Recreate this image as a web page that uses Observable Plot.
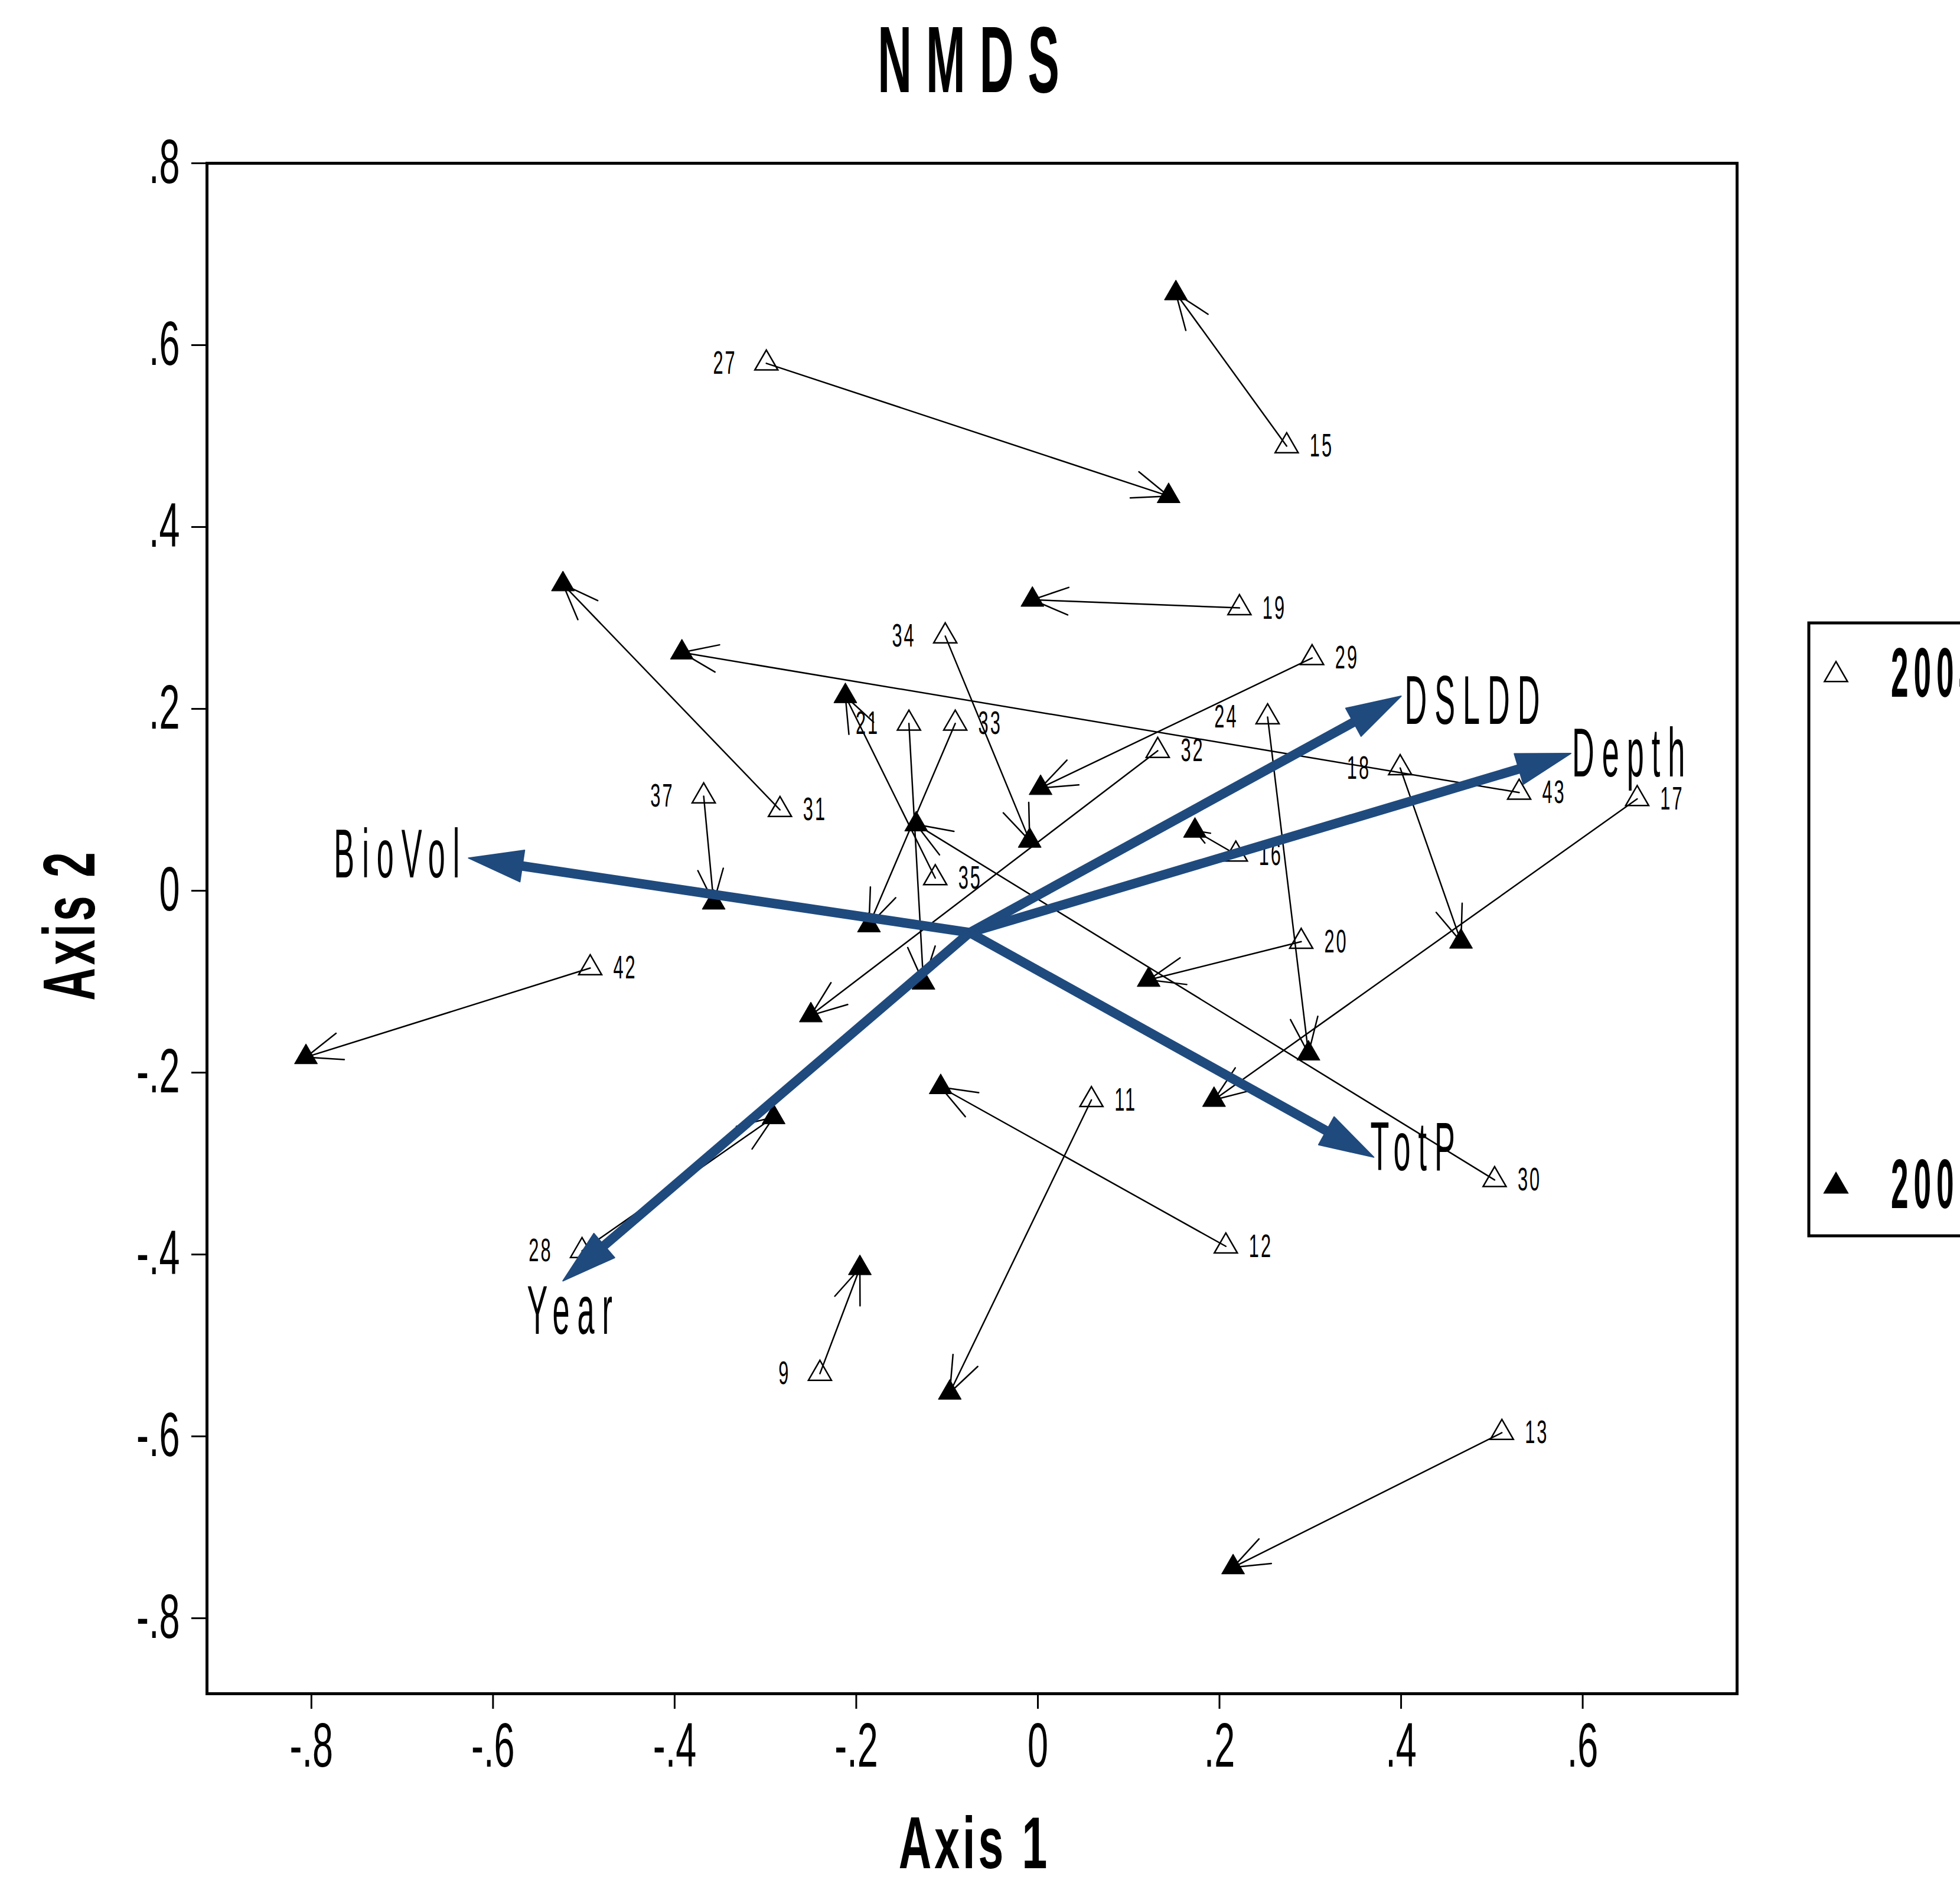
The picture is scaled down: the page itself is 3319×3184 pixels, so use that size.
<!DOCTYPE html>
<html>
<head>
<meta charset="utf-8">
<script src="https://cdn.jsdelivr.net/npm/d3@7"></script>
<script src="https://cdn.jsdelivr.net/npm/@observablehq/plot@0.6"></script>
<style>
html, body { margin: 0; padding: 0; background: #fff; }
#wrap { position: relative; width: 3319px; height: 3184px; overflow: hidden; background: #fff; }
</style>
</head>
<body>
<div id="wrap"></div>
<script>
// ---- data ----
const sites = ["9","11","12","13","15","16","17","18","19","20","21","24","27","28","29","30","31","32","33","34","35","37","42","43"];
// first year (open triangles)
const axis1First = [-0.240, 0.059, 0.207, 0.511, 0.274, 0.218, 0.660, 0.399, 0.222, 0.290, -0.142, 0.253, -0.299, -0.502, 0.302, 0.503, -0.284, 0.132, -0.091, -0.102, -0.113, -0.368, -0.493, 0.530];
const axis2First = [-0.531, -0.230, -0.391, -0.596, 0.489, 0.040, 0.101, 0.135, 0.311, -0.056, 0.184, 0.191, 0.580, -0.396, 0.256, -0.318, 0.089, 0.154, 0.184, 0.280, 0.014, 0.104, -0.085, 0.108];
// second year (filled triangles)
const axis1Second = [-0.196, -0.097, -0.107, 0.215, 0.152, 0.173, 0.194, 0.466, -0.006, 0.122, -0.126, 0.298, 0.144, -0.291, 0.003, -0.134, -0.523, -0.250, -0.186, -0.009, -0.212, -0.357, -0.806, -0.392];
const axis2Second = [-0.415, -0.552, -0.216, -0.744, 0.657, 0.066, -0.230, -0.056, 0.320, -0.098, -0.101, -0.179, 0.434, -0.249, 0.113, 0.073, 0.337, -0.137, -0.038, 0.055, 0.214, -0.013, -0.183, 0.262];
// sites whose label sits to the left of the marker
const leftLabeled = ["9","18","21","24","27","28","34","37"];

// environmental vectors
const vecNames = ["BioVol", "DSLDD", "Depth", "TotP", "Year"];
const vecAxis1 = [-0.627, 0.400, 0.587, 0.370, -0.523];
const vecAxis2 = [0.036, 0.214, 0.151, -0.293, -0.429];
const vecOrigin1 = -0.075;
const vecOrigin2 = -0.046;

const legendYears = ["2004", "2006"];
const xTickValues = [-0.8, -0.6, -0.4, -0.2, 0, 0.2, 0.4, 0.6];
const yTickValues = [-0.8, -0.6, -0.4, -0.2, 0, 0.2, 0.4, 0.6, 0.8];

// ---- layout ----
const W = 3319, H = 3184;
const mL = 350, mR = 378, mT = 276, mB = 316;
const xDom = [-0.915, 0.770], yDom = [-0.883, 0.800];
const kx = (W - mL - mR) / (xDom[1] - xDom[0]);
const ky = (H - mT - mB) / (yDom[1] - yDom[0]);
const BLUE = "#1f4a7e";
const FONT = "'Liberation Sans', Arial, Helvetica, sans-serif";

const fmt = d => Math.abs(d) < 1e-9 ? "0" : (d < 0 ? "-" : "") + "." + Math.round(Math.abs(d) * 10);

const rows = sites.map((s, i) => ({
  site: s, a1: axis1First[i], a2: axis2First[i], b1: axis1Second[i], b2: axis2Second[i],
  left: leftLabeled.includes(s)
}));

// vector shafts & heads (head size in pixels converted to data units through the scale factors)
const headLen = 92, headHalf = 27;
const vecRows = vecNames.map((n, i) => {
  const tx = vecAxis1[i], ty = vecAxis2[i];
  const dxp = (tx - vecOrigin1) * kx, dyp = (ty - vecOrigin2) * ky;
  const L = Math.hypot(dxp, dyp);
  const ux = dxp / L, uy = dyp / L;
  const bx = tx - ux * headLen / kx, by = ty - uy * headLen / ky;
  return {
    name: n, ox: vecOrigin1, oy: vecOrigin2, tx, ty,
    sx: tx - ux * headLen * 0.6 / kx, sy: ty - uy * headLen * 0.6 / ky,
    c1x: bx + (-uy) * headHalf / kx, c1y: by + ux * headHalf / ky,
    c2x: bx - (-uy) * headHalf / kx, c2y: by - ux * headHalf / ky
  };
});
const headPts = vecRows.flatMap(v => [
  {name: v.name, x: v.tx, y: v.ty},
  {name: v.name, x: v.c1x, y: v.c1y},
  {name: v.name, x: v.c2x, y: v.c2y}
]);

const vecLabelLayout = {
  BioVol: {anchor: "end", dx: -2, dy: -4},
  DSLDD: {anchor: "start", dx: 6, dy: 10},
  Depth: {anchor: "start", dx: 2, dy: 2},
  TotP: {anchor: "start", dx: -6, dy: -15},
  Year: {anchor: "middle", dx: 18, dy: 53}
};

const vecLabelMarks = vecRows.map(v => {
  const L = vecLabelLayout[v.name];
  return Plot.text([v], {x: "tx", y: "ty", text: "name", textAnchor: L.anchor, dx: L.dx, dy: L.dy,
    fontSize: 116, fill: "black"});
});

const plot = Plot.plot({
  width: W, height: H,
  marginLeft: mL, marginRight: mR, marginTop: mT, marginBottom: mB,
  x: {domain: xDom},
  y: {domain: yDom},
  style: {fontFamily: FONT, background: "white", color: "black"},
  marks: [
    Plot.arrow(rows, {x1: "a1", y1: "a2", x2: "b1", y2: "b2", stroke: "black", strokeWidth: 2.5,
      headLength: 39, headAngle: 42}),
    Plot.dot(rows, {x: "a1", y: "a2", symbol: "triangle", r: 14.5, fill: "none", stroke: "black", strokeWidth: 2.5}),
    Plot.dot(rows, {x: "b1", y: "b2", symbol: "triangle", r: 14.5, fill: "black", stroke: "black", strokeWidth: 1}),
    Plot.text(rows.filter(d => !d.left), {x: "a1", y: "a2", text: "site", textAnchor: "start", dx: 39,
      fontSize: 56, fill: "black"}),
    Plot.text(rows.filter(d => d.left), {x: "a1", y: "a2", text: "site", textAnchor: "end", dx: -50,
      fontSize: 56, fill: "black"}),
    Plot.link(vecRows, {x1: "ox", y1: "oy", x2: "sx", y2: "sy", stroke: BLUE, strokeWidth: 16}),
    Plot.line(headPts, {x: "x", y: "y", z: "name", fill: BLUE, stroke: BLUE, strokeWidth: 2, curve: "linear-closed"}),
    ...vecLabelMarks,
    Plot.axisX({ticks: xTickValues, tickFormat: fmt, tickSize: 26, tickPadding: 23, fontSize: 105,
      strokeWidth: 3, label: null}),
    Plot.axisY({ticks: yTickValues, tickFormat: fmt, tickSize: 26, tickPadding: 20, fontSize: 105,
      strokeWidth: 3, label: null}),
    Plot.frame({stroke: "black", strokeWidth: 5}),
    Plot.text(["NMDS"], {text: d => d, frameAnchor: "top", lineAnchor: "middle", textAnchor: "middle",
      dy: -172, dx: 6, fontSize: 160, fontWeight: "bold", fill: "black"}),
    Plot.text(["Axis 1"], {text: d => d, frameAnchor: "bottom", lineAnchor: "middle", textAnchor: "middle",
      dy: 256, dx: 4, fontSize: 124, fontWeight: "bold", fill: "black"}),
    Plot.text(["Axis 2"], {text: d => d, frameAnchor: "left", lineAnchor: "middle", textAnchor: "middle",
      dx: -230, dy: -6, rotate: -90, fontSize: 124, fontWeight: "bold", fill: "black"})
  ]
});

// legend (outside the plotting frame, partly cut off at the right edge as in the reference)
const lg = d3.select(plot).append("g").attr("aria-label", "legend");
lg.append("rect").attr("x", 3063).attr("y", 1055).attr("width", 600).attr("height", 1038)
  .attr("fill", "none").attr("stroke", "black").attr("stroke-width", 5);
const sym = d3.symbol(d3.symbolTriangle, Math.PI * 14.5 * 14.5);
const legendRows = [{y: 1143, fill: "none", label: legendYears[0]}, {y: 2009, fill: "black", label: legendYears[1]}];
legendRows.forEach(r => {
  lg.append("path").attr("d", sym()).attr("transform", `translate(3109,${r.y})`)
    .attr("fill", r.fill).attr("stroke", "black").attr("stroke-width", 2.5);
  lg.append("text").text(r.label)
    .attr("x", 3202).attr("y", r.y - 4)
    .attr("dy", "0.35em").attr("font-size", 118).attr("font-weight", "bold")
    .attr("text-anchor", "start")
    .attr("font-family", FONT).attr("fill", "black");
});

document.getElementById("wrap").appendChild(plot);

// condense text horizontally (the reference uses a narrow typeface)
const siteSet = new Set(sites), vecSet = new Set(vecNames), yearSet = new Set(legendYears);
function squeezeText(t, sx, ls) {
  if (ls) t.style.letterSpacing = (ls / sx) + "px";
  const L = t.getComputedTextLength();
  if (L > 0) {
    t.setAttribute("textLength", (L * sx).toFixed(2));
    t.setAttribute("lengthAdjust", "spacingAndGlyphs");
  }
}
plot.querySelectorAll("text").forEach(t => {
  const s = t.textContent;
  if (s === "NMDS") squeezeText(t, 0.5, 24);
  else if (s === "Axis 1" || s === "Axis 2") squeezeText(t, 0.62, 5);
  else if (vecSet.has(s)) squeezeText(t, 0.45, 13);
  else if (siteSet.has(s)) squeezeText(t, 0.55, 3);
  else if (yearSet.has(s)) squeezeText(t, 0.45, 9);
  else squeezeText(t, 0.6, 0);
});
</script>
</body>
</html>
